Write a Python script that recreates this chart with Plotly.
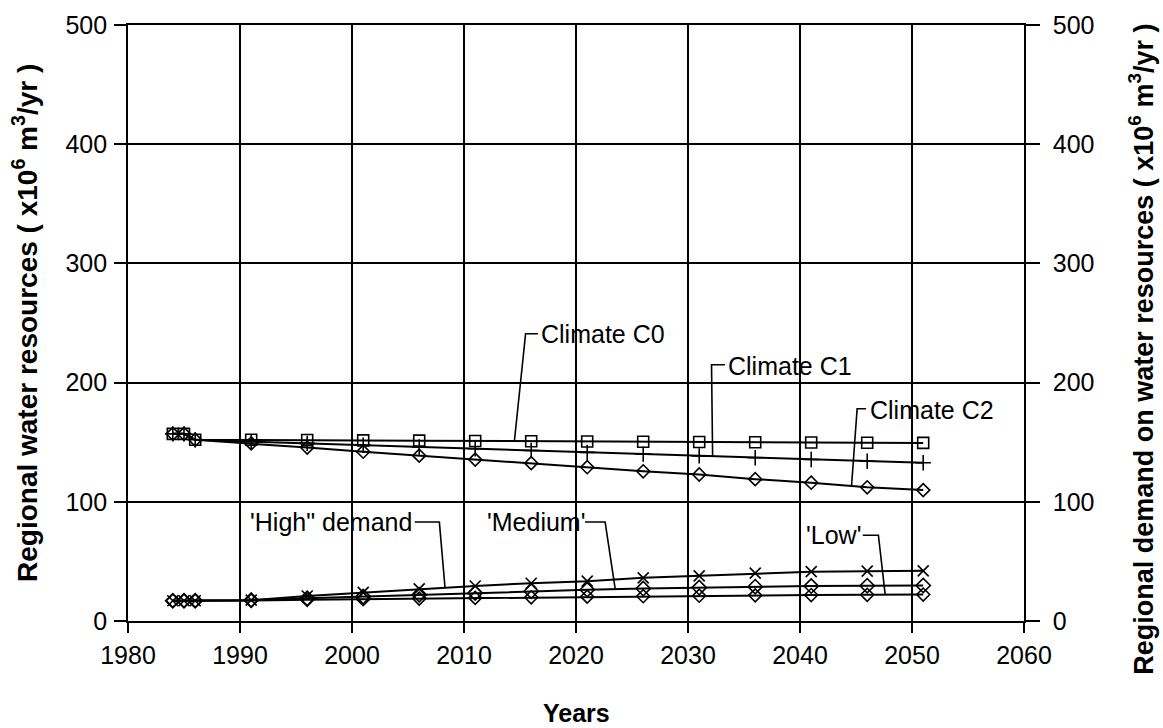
import plotly.graph_objects as go

# Years of the simulation (historical block, then 5-year steps)
years = [1984, 1985, 1986, 1991, 1996, 2001, 2006, 2011, 2016, 2021,
         2026, 2031, 2036, 2041, 2046, 2051]

# Regional water resources under three climate scenarios (x10^6 m3/yr)
climate_c0 = [157, 157, 152, 152, 151.8, 151.5, 151.3, 151, 150.8, 150.6,
              150.4, 150.2, 150, 149.8, 149.6, 149.4]
climate_c1 = [157, 157, 152, 150.5, 149, 147.5, 146, 144.5, 143, 141.5,
              140, 138.5, 137, 135.5, 134, 132.7]
climate_c2 = [157, 157, 152, 149, 145.5, 142, 138.7, 135.4, 132.4, 129,
              125.6, 122.9, 119, 116, 112.2, 109.8]

# Regional demand on water resources (x10^6 m3/yr)
demand_high = [17, 17, 17, 17.5, 21, 24, 27, 29.4, 31.7, 33.4,
               36.2, 37.9, 40.2, 41.4, 41.8, 42.1]
demand_medium = [17, 17, 17, 17.5, 19, 20.5, 22, 23.5, 25, 26.2,
                 27.2, 28, 28.8, 29.3, 29.6, 29.8]
demand_low = [17, 17, 17, 17.2, 17.8, 18.3, 18.8, 19.4, 19.9, 20.4,
              20.8, 21.2, 21.5, 21.8, 22, 22.2]

x_ticks = [1980, 1990, 2000, 2010, 2020, 2030, 2040, 2050, 2060]
y_ticks = [0, 100, 200, 300, 400, 500]

FONT = "Liberation Sans, Arial, Helvetica, sans-serif"
INK = "black"

fig = go.Figure()

series = [
    (climate_c0, "square-open", 11, "Climate C0"),
    (climate_c1, "cross-thin-open", 11, "Climate C1"),
    (climate_c2, "diamond-open", 10, "Climate C2"),
    (demand_high, "x-thin-open", 11, "High demand"),
    (demand_medium, "diamond-open", 11, "Medium demand"),
    (demand_low, "diamond-open", 10, "Low demand"),
]
for values, symbol, size, name in series:
    fig.add_trace(go.Scatter(
        x=years, y=values, name=name, mode="lines+markers",
        line=dict(color=INK, width=2),
        marker=dict(symbol=symbol, size=size, color=INK,
                    line=dict(color=INK, width=1.6)),
        showlegend=False,
    ))

# invisible trace to activate the right-hand axis
fig.add_trace(go.Scatter(x=[years[0]], y=[demand_high[0]], yaxis="y2",
                         mode="markers", marker=dict(opacity=0),
                         showlegend=False, hoverinfo="skip"))

# Series labels with their leader lines
labels = [
    ("Climate C0", 2016.7, 241, [(2016.6, 241), (2015.5, 241), (2014.5, 151)]),
    ("Climate C1", 2033.4, 214, [(2033.3, 215), (2032.1, 215), (2032.2, 137.5)]),
    ("Climate C2", 2046.1, 177, [(2045.9, 178), (2045.1, 178), (2044.6, 113)]),
    ("'High\" demand", 1990.7, 83, [(2005.6, 83), (2007.8, 83), (2008.3, 28.5)]),
    ("'Medium'", 2011.9, 83, [(2020.8, 83), (2022.6, 83), (2023.5, 27)]),
    ("'Low'", 2040.4, 72, [(2045.6, 72), (2047.0, 72), (2047.6, 22.5)]),
]
shapes = []
for text, tx, ty, pts in labels:
    fig.add_annotation(x=tx, y=ty, xref="x", yref="y", text=text,
                       showarrow=False, xanchor="left", yanchor="middle",
                       font=dict(family=FONT, size=25, color=INK))
    path = "M " + " L ".join(f"{px},{py}" for px, py in pts)
    shapes.append(dict(type="path", path=path, xref="x", yref="y",
                       line=dict(color=INK, width=1.6)))

# Axis titles
fig.add_annotation(text="Years", xref="paper", yref="paper", x=0.5, y=0,
                   yshift=-92, showarrow=False, yanchor="middle",
                   font=dict(family=FONT, size=25, color=INK, weight="bold"))
fig.add_annotation(text="Regional water resources ( x10<sup>6</sup> m<sup>3</sup>/yr )",
                   xref="paper", yref="paper", x=0, y=0.5, xshift=-103,
                   showarrow=False, textangle=-90, xanchor="center",
                   font=dict(family=FONT, size=28, color=INK, weight="bold"))
fig.add_annotation(text="Regional demand on water resources ( x10<sup>6</sup> m<sup>3</sup>/yr )",
                   xref="paper", yref="paper", x=1, y=0.455, xshift=117,
                   showarrow=False, textangle=-90, xanchor="center",
                   font=dict(family=FONT, size=27, color=INK, weight="bold"))

axis_common = dict(
    showline=True, linecolor=INK, linewidth=1.6,
    ticks="outside", tickcolor=INK, tickwidth=1.6,
    tickfont=dict(family=FONT, size=25, color=INK),
    zeroline=False,
)

fig.update_layout(
    width=1163, height=728,
    margin=dict(l=128, r=139, t=25, b=107),
    paper_bgcolor="white", plot_bgcolor="white",
    shapes=shapes,
    xaxis=dict(range=[1980, 2060], tickvals=x_ticks, ticklen=10,
               showgrid=True, gridcolor=INK, gridwidth=1.6, mirror=True,
               ticklabelstandoff=1, **axis_common),
    yaxis=dict(range=[0, 500], tickvals=y_ticks, ticklen=12,
               showgrid=True, gridcolor=INK, gridwidth=1.6,
               ticklabelstandoff=2, **axis_common),
    yaxis2=dict(range=[0, 500], tickvals=y_ticks, ticklen=14, overlaying="y",
                side="right", showgrid=False, ticklabelstandoff=8,
                **axis_common),
)

fig.write_html("out.html")
